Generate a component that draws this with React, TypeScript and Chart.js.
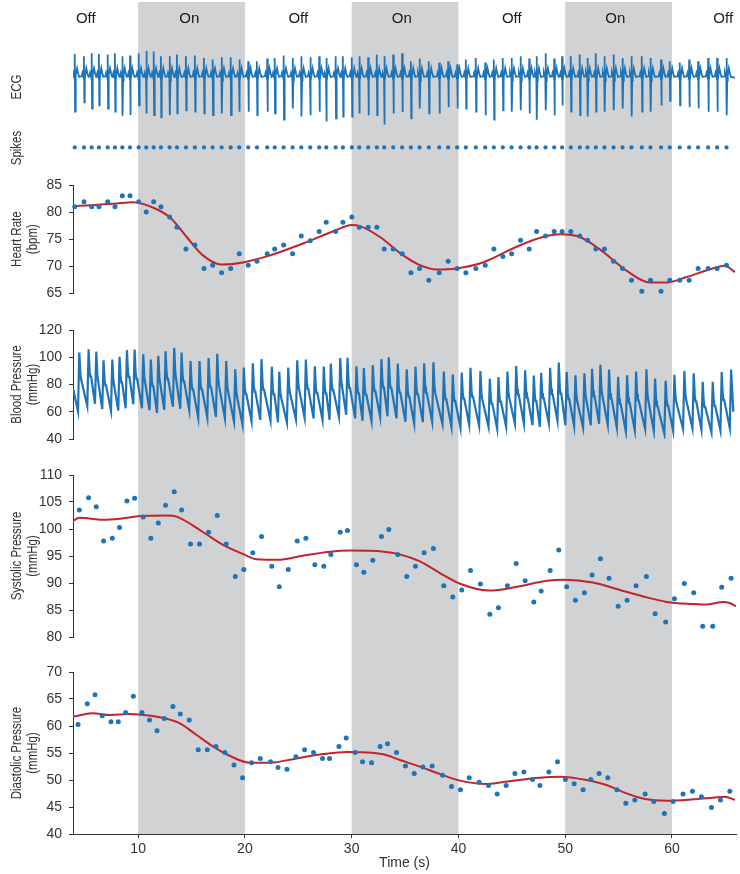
import React, { useEffect, useRef } from 'react';
import { Chart, registerables } from 'chart.js';

Chart.register(...registerables);

// ---------- axis / annotation data ----------
const X_MIN = 3.9;
const X_MAX = 66;
const timeTicks = [10, 20, 30, 40, 50, 60];
const shadedIntervals = [[10, 20], [30, 40], [50, 60]];
const phaseLabels = ['Off', 'On', 'Off', 'On', 'Off', 'On', 'Off'];
const phaseLabelTimes = [5.1, 14.8, 25.0, 34.7, 45.0, 54.7, 64.8];

const hrTicks = [65, 70, 75, 80, 85];
const bpTicks = [40, 60, 80, 100, 120];
const sysTicks = [80, 85, 90, 95, 100, 105, 110];
const diaTicks = [40, 45, 50, 55, 60, 65, 70];

// ---------- per-beat data ----------
const beatTimes = [
  4.06, 4.93, 5.65, 6.33, 7.15, 7.83, 8.52, 9.24, 10.05, 10.76,
  11.46, 12.14, 12.95, 13.64, 14.48, 15.32, 16.17, 16.98, 17.82, 18.67,
  19.47, 20.31, 21.13, 22.09, 22.79, 23.63, 24.47, 25.28, 26.12, 26.96,
  27.62, 28.5, 29.18, 30.02, 30.71, 31.55, 32.36, 33.05, 33.89, 34.73,
  35.55, 36.36, 37.23, 38.2, 39.04, 39.88, 40.7, 41.63, 42.51, 43.32,
  44.16, 44.98, 45.82, 46.63, 47.32, 48.16, 48.97, 49.71, 50.53, 51.37,
  52.09, 52.87, 53.68, 54.53, 55.37, 56.21, 57.18, 57.99, 58.98, 59.8,
  60.73, 61.61, 62.45, 63.39, 64.23, 65.11,
];

const heartRate = [
  81.0, 81.9, 81.0, 81.0, 81.9, 81.0, 83.0, 83.0, 81.9, 80.0,
  81.9, 81.0, 79.1, 77.2, 73.2, 73.9, 69.6, 70.2, 68.8, 69.6,
  72.3, 70.2, 70.9, 72.3, 73.2, 73.9, 72.3, 75.6, 74.7, 76.4,
  78.1, 76.4, 78.1, 79.1, 77.2, 77.2, 77.2, 73.2, 73.2, 72.3,
  68.8, 69.6, 67.4, 68.8, 70.9, 69.6, 68.8, 69.6, 70.2, 73.2,
  71.8, 72.3, 74.8, 73.2, 76.4, 75.6, 76.4, 76.4, 76.4, 75.6,
  74.8, 73.2, 73.2, 70.9, 69.6, 67.4, 65.4, 67.4, 65.4, 67.4,
  67.4, 67.4, 69.6, 69.6, 69.6, 70.2,
];

const systolic = [
  103.5, 105.8, 104.1, 97.8, 98.3, 100.3, 105.2, 105.7, 102.2, 98.3,
  101.1, 104.4, 106.9, 103.5, 97.2, 97.2, 99.4, 102.5, 97.2, 91.2,
  92.5, 95.6, 98.6, 93.1, 89.3, 92.5, 97.8, 98.3, 93.4, 93.1,
  95.3, 99.4, 99.7, 93.4, 92.0, 94.2, 98.6, 99.9, 95.3, 91.2,
  93.1, 95.6, 96.4, 89.5, 87.4, 88.7, 92.3, 89.8, 84.2, 85.4,
  89.5, 93.6, 90.4, 86.5, 88.5, 92.3, 96.1, 89.3, 86.8, 88.2,
  91.5, 94.5, 90.9, 85.7, 86.8, 89.5, 91.2, 84.3, 82.8, 87.1,
  89.9, 88.2, 82.0, 82.0, 89.2, 90.9,
];

const diastolic = [
  60.3, 64.1, 65.8, 61.9, 60.8, 60.8, 62.5, 65.5, 62.5, 61.1,
  59.1, 61.4, 63.6, 62.2, 61.1, 55.6, 55.6, 56.2, 55.1, 52.8,
  50.4, 53.2, 54.0, 53.4, 52.3, 52.0, 54.3, 55.6, 55.1, 54.0,
  54.0, 56.2, 57.8, 55.1, 53.4, 53.2, 56.2, 56.7, 55.1, 52.6,
  51.2, 52.4, 52.6, 50.9, 48.8, 48.2, 50.4, 49.6, 49.0, 47.4,
  49.0, 51.2, 51.5, 50.1, 49.0, 51.5, 53.4, 50.1, 49.3, 48.2,
  50.1, 51.2, 50.4, 48.2, 45.7, 46.3, 47.4, 46.0, 43.8, 46.0,
  47.4, 47.9, 46.9, 44.9, 46.3, 47.9,
];

const systolicLag = 0.43;
const diastolicLag = 0.31;

// ECG per-beat R (up) and S (down) amplitudes (mV-like units)
const ecgR = [
  0.78, 0.70, 0.81, 0.78, 0.76, 0.81, 0.70, 0.73, 0.81, 0.89,
  0.87, 0.70, 0.70, 0.76, 0.70, 0.73, 0.64, 0.59, 0.67, 0.67,
  0.59, 0.53, 0.53, 0.62, 0.64, 0.73, 0.64, 0.70, 0.67, 0.70,
  0.64, 0.70, 0.70, 0.67, 0.70, 0.67, 0.76, 0.70, 0.76, 0.81,
  0.53, 0.62, 0.53, 0.48, 0.53, 0.42, 0.59, 0.64, 0.48, 0.59,
  0.64, 0.64, 0.70, 0.62, 0.70, 0.81, 0.62, 0.70, 0.70, 0.76,
  0.64, 0.81, 0.70, 0.76, 0.64, 0.70, 0.70, 0.64, 0.59, 0.53,
  0.48, 0.59, 0.53, 0.64, 0.64, 0.64,
];
const ecgS = [
  -1.24, -0.91, -1.13, -1.02, -1.13, -1.24, -1.38, -1.36, -1.02, -1.30,
  -1.36, -1.44, -1.36, -1.30, -1.19, -1.24, -1.30, -1.36, -1.30, -1.36,
  -1.24, -1.24, -1.36, -1.24, -1.30, -1.52, -1.13, -1.41, -1.36, -1.24,
  -1.58, -1.47, -1.41, -1.41, -1.30, -1.36, -1.36, -1.69, -1.30, -1.25,
  -1.47, -1.13, -1.30, -1.30, -1.08, -1.13, -1.13, -1.24, -1.36, -1.52,
  -1.19, -1.24, -1.19, -1.30, -1.52, -1.19, -1.36, -1.02, -1.24, -1.36,
  -1.41, -1.24, -1.24, -1.19, -1.13, -1.41, -1.24, -1.24, -1.02, -0.86,
  -1.02, -1.08, -1.13, -1.24, -1.24, -1.36,
];
// ECG beat shape: time offsets from each beat and levels ('R'/'S' use per-beat values)
const ecgTemplateOffsets = [-0.22, -0.15, -0.07, -0.02, 0, 0.035, 0.07, 0.12, 0.22, 0.32, 0.42];
const ecgTemplateLevels: (number | string)[] = [0, 0.12, 0, -0.08, 'R', 'S', -0.15, 0.05, 0.28, 0.1, -0.02];
const ecgEnd = { x: 65.9, y: -0.05 };

// Blood-pressure beat shape after each systolic peak (dicrotic shoulder)
const bpNotchOffsets = [0.1, 0.17, 0.24];
const bpNotchFractions = [0.6, 0.5, 0.5];
const bpStart = { x: 3.9, y: 77.2 };
const bpEnd = { x: 65.75, y: 60 };

// ---------- smoothed trends ----------
const hrTrendTimes = [3.9, 6.02, 8.02, 9.52, 11.54, 13.04, 14.55, 16.07, 17.82, 19.82, 22.35, 25.44, 28.59, 30.0, 30.78, 32.65, 34.83, 36.39, 37.96, 39.83, 42.29, 45.45, 47.91, 49.5, 51.37, 53.25, 55.74, 57.93, 59.49, 61.36, 63.23, 64.95, 65.9];
const hrTrendValues = [81.1, 81.3, 81.6, 81.8, 80.7, 78.9, 75.4, 72.0, 70.3, 70.7, 72.0, 74.2, 76.7, 77.6, 77.4, 75.4, 72.0, 70.2, 69.4, 69.6, 70.7, 73.6, 75.4, 75.9, 75.4, 73.1, 69.2, 67.0, 67.0, 68.0, 69.2, 70.1, 68.9];

const sysTrendTimes = [3.9, 4.5, 6.7, 8.3, 10.2, 12.7, 13.6, 16.1, 18.0, 19.9, 21.1, 23.3, 25.5, 28.0, 29.8, 33.0, 34.5, 36.4, 38.3, 40.1, 42.9, 45.5, 48.3, 49.8, 52.6, 54.8, 57.3, 59.5, 62.0, 63.2, 64.8, 65.4, 66.0];
const sysTrendValues = [101.5, 102.1, 101.7, 101.9, 102.4, 102.5, 102.3, 99.4, 97.0, 95.3, 94.4, 94.3, 95.1, 95.8, 96.0, 95.8, 95.3, 94.0, 91.8, 89.9, 88.6, 89.3, 90.4, 90.6, 90.1, 88.9, 87.5, 86.5, 86.1, 86.0, 86.5, 86.3, 85.7];

const diaTrendTimes = [3.9, 4.56, 5.8, 7.36, 9.24, 10.48, 12.67, 13.92, 15.48, 17.04, 18.6, 20.47, 22.35, 24.85, 27.34, 29.53, 31.08, 32.95, 34.52, 36.39, 38.26, 40.14, 42.64, 45.13, 47.63, 49.5, 52.0, 53.87, 55.74, 57.62, 59.49, 61.98, 63.85, 64.95, 65.89];
const diaTrendValues = [61.7, 62.0, 62.35, 62.04, 62.2, 62.04, 61.36, 60.5, 58.33, 56.17, 54.44, 53.21, 53.21, 54.0, 54.8, 55.2, 55.13, 54.76, 53.7, 52.47, 51.11, 49.88, 49.26, 49.88, 50.43, 50.62, 50.0, 49.07, 47.53, 46.42, 46.17, 46.42, 46.73, 46.91, 46.3];

// ---------- styles ----------
const BLUE = '#1f73b7';
const RED = '#c0252d';
const SHADE = '#d1d2d4';
const INK = '#333333';
const TICK_FONT = "'Liberation Sans', Arial, Helvetica, sans-serif";
const WIDTH = 740;
const AXIS_W = 73;
const PAD_RIGHT = 4;
const TITLE_X = [17, 33];

const pts = (xs: number[], ys: number[]) => xs.map((x, i) => ({ x, y: ys[i] }));

function buildEcg() {
  const out: { x: number; y: number }[] = [];
  beatTimes.forEach((t, i) => {
    ecgTemplateOffsets.forEach((o, k) => {
      const l = ecgTemplateLevels[k];
      out.push({ x: t + o, y: l === 'R' ? ecgR[i] : l === 'S' ? ecgS[i] : (l as number) });
    });
  });
  out.push(ecgEnd);
  return out;
}

function buildBp() {
  const out: { x: number; y: number }[] = [bpStart];
  beatTimes.forEach((t, i) => {
    out.push({ x: t + diastolicLag, y: diastolic[i] });
    const ts = t + systolicLag;
    out.push({ x: ts, y: systolic[i] });
    if (i < beatTimes.length - 1) {
      const dNext = diastolic[i + 1];
      bpNotchOffsets.forEach((o, k) => {
        out.push({ x: ts + o, y: dNext + bpNotchFractions[k] * (systolic[i] - dNext) });
      });
    }
  });
  out.push(bpEnd);
  return out;
}

function shadePlugin(fromY: number, toChartBottom: boolean) {
  return {
    id: 'shade',
    beforeDraw(chart: any) {
      const { ctx } = chart;
      const xs = chart.scales.x;
      const bottom = toChartBottom ? chart.chartArea.bottom : chart.height;
      ctx.save();
      ctx.fillStyle = SHADE;
      shadedIntervals.forEach(([a, b]) => {
        const x0 = xs.getPixelForValue(a);
        const x1 = xs.getPixelForValue(b);
        ctx.fillRect(x0, fromY, x1 - x0, bottom - fromY);
      });
      ctx.restore();
    },
  };
}

type TitleSpec = { lines: string[]; y?: number };

function textPlugin(titles: TitleSpec[], phase = false) {
  return {
    id: 'texts',
    afterDraw(chart: any) {
      const { ctx } = chart;
      ctx.save();
      ctx.fillStyle = INK;
      ctx.font = `14px ${TICK_FONT}`;
      ctx.textAlign = 'center';
      ctx.textBaseline = 'middle';
      titles.forEach((t) => {
        const y = t.y ?? (chart.chartArea.top + chart.chartArea.bottom) / 2;
        t.lines.forEach((line, k) => {
          ctx.save();
          ctx.translate(TITLE_X[k], y);
          ctx.rotate(-Math.PI / 2);
          ctx.scale(0.82, 1);
          ctx.fillText(line, 0, 0);
          ctx.restore();
        });
      });
      if (phase) {
        ctx.fillStyle = '#1a1a1a';
        ctx.font = `15px ${TICK_FONT}`;
        phaseLabels.forEach((l, i) => {
          ctx.fillText(l, chart.scales.x.getPixelForValue(phaseLabelTimes[i]), 18.7);
        });
      }
      ctx.restore();
    },
  };
}

const xHidden = () => ({ type: 'linear', min: X_MIN, max: X_MAX, display: false });

function yAxis(min: number, max: number, ticks: number[]) {
  return {
    type: 'linear',
    min,
    max,
    afterFit: (s: any) => { s.width = AXIS_W; },
    afterBuildTicks: (s: any) => { s.ticks = ticks.map((v) => ({ value: v })); },
    ticks: { font: { family: TICK_FONT, size: 14 }, color: INK, padding: 7 },
    grid: { drawOnChartArea: false, drawTicks: true, tickLength: 4, color: INK, lineWidth: 1 },
    border: { display: true, color: INK, width: 1 },
  };
}

const baseOptions = {
  responsive: false,
  maintainAspectRatio: false,
  animation: false,
  devicePixelRatio: 1,
  events: [],
  plugins: { legend: { display: false }, tooltip: { enabled: false } },
};

const dots = (data: any[], r = 2.5) => ({
  data, showLine: false, pointRadius: r, pointBackgroundColor: BLUE, pointBorderWidth: 0, clip: 6,
});
const trend = (data: any[]) => ({
  data, borderColor: RED, borderWidth: 2, pointRadius: 0, cubicInterpolationMode: 'monotone',
});

type PanelSpec = { top: number; height: number; make: () => any };

const panels: PanelSpec[] = [
  {
    top: 0,
    height: 165,
    make: () => ({
      type: 'line',
      data: {
        datasets: [
          { data: buildEcg(), yAxisID: 'y', borderColor: BLUE, borderWidth: 1.8, pointRadius: 0 },
          { ...dots(beatTimes.map((t) => ({ x: t, y: 0 })), 2.1), yAxisID: 'yS' },
        ],
      },
      options: {
        ...baseOptions,
        layout: { padding: { left: AXIS_W, right: PAD_RIGHT, top: 0, bottom: 0 } },
        scales: {
          x: xHidden(),
          y: { display: false, min: -2.967, max: 2.533 },
          yS: { display: false, min: -0.095, max: 1 },
        },
      },
      plugins: [shadePlugin(2, false), textPlugin([{ lines: ['ECG'], y: 87 }, { lines: ['Spikes'], y: 148 }], true)],
    }),
  },
  {
    top: 165,
    height: 147,
    make: () => ({
      type: 'line',
      data: { datasets: [dots(pts(beatTimes, heartRate)), trend(pts(hrTrendTimes, hrTrendValues))] },
      options: {
        ...baseOptions,
        layout: { padding: { left: 0, right: PAD_RIGHT, top: 20, bottom: 18.7 } },
        scales: { x: xHidden(), y: yAxis(65, 85, hrTicks) },
      },
      plugins: [shadePlugin(0, false), textPlugin([{ lines: ['Heart Rate', '(bpm)'] }])],
    }),
  },
  {
    top: 312,
    height: 145,
    make: () => ({
      type: 'line',
      data: { datasets: [{ data: buildBp(), borderColor: BLUE, borderWidth: 2.2, pointRadius: 0 }] },
      options: {
        ...baseOptions,
        layout: { padding: { left: 0, right: PAD_RIGHT, top: 18, bottom: 18 } },
        scales: { x: xHidden(), y: yAxis(40, 120, bpTicks) },
      },
      plugins: [shadePlugin(0, false), textPlugin([{ lines: ['Blood Pressure', '(mmHg)'] }])],
    }),
  },
  {
    top: 457,
    height: 197,
    make: () => ({
      type: 'line',
      data: {
        datasets: [
          dots(beatTimes.map((t, i) => ({ x: t + systolicLag, y: systolic[i] }))),
          trend(pts(sysTrendTimes, sysTrendValues)),
        ],
      },
      options: {
        ...baseOptions,
        layout: { padding: { left: 0, right: PAD_RIGHT, top: 18, bottom: 17 } },
        scales: { x: xHidden(), y: yAxis(80, 110, sysTicks) },
      },
      plugins: [shadePlugin(0, false), textPlugin([{ lines: ['Systolic Pressure', '(mmHg)'] }])],
    }),
  },
  {
    top: 654,
    height: 220,
    make: () => ({
      type: 'line',
      data: {
        datasets: [
          dots(beatTimes.map((t, i) => ({ x: t + diastolicLag, y: diastolic[i] }))),
          trend(pts(diaTrendTimes, diaTrendValues)),
        ],
      },
      options: {
        ...baseOptions,
        layout: { padding: { left: 0, right: PAD_RIGHT, top: 18, bottom: 0 } },
        scales: {
          x: {
            type: 'linear',
            min: X_MIN,
            max: X_MAX,
            afterFit: (s: any) => { s.height = 40; },
            afterBuildTicks: (s: any) => { s.ticks = timeTicks.map((v) => ({ value: v })); },
            ticks: { font: { family: TICK_FONT, size: 14 }, color: INK, padding: 3, maxRotation: 0 },
            grid: { drawOnChartArea: false, drawTicks: true, tickLength: 4, color: INK, lineWidth: 1 },
            border: { display: true, color: INK, width: 1 },
            title: {
              display: true,
              text: 'Time (s)',
              color: INK,
              font: { family: TICK_FONT, size: 14 },
              padding: { top: 0, bottom: 2 },
            },
          },
          y: yAxis(40, 70, diaTicks),
        },
      },
      plugins: [shadePlugin(0, true), textPlugin([{ lines: ['Diastolic Pressure', '(mmHg)'] }])],
    }),
  },
];

function Panel({ spec }: { spec: PanelSpec }) {
  const ref = useRef<HTMLCanvasElement>(null);
  useEffect(() => {
    const chart = new Chart(ref.current as HTMLCanvasElement, spec.make());
    return () => chart.destroy();
  }, [spec]);
  return (
    <canvas
      ref={ref}
      width={WIDTH}
      height={spec.height}
      style={{ position: 'absolute', left: 0, top: spec.top, width: WIDTH, height: spec.height, display: 'block' }}
    />
  );
}

export default function App() {
  return (
    <div style={{ position: 'absolute', left: 0, top: 0, width: WIDTH, height: 874, background: '#ffffff' }}>
      {panels.map((p, i) => (
        <Panel key={i} spec={p} />
      ))}
    </div>
  );
}
